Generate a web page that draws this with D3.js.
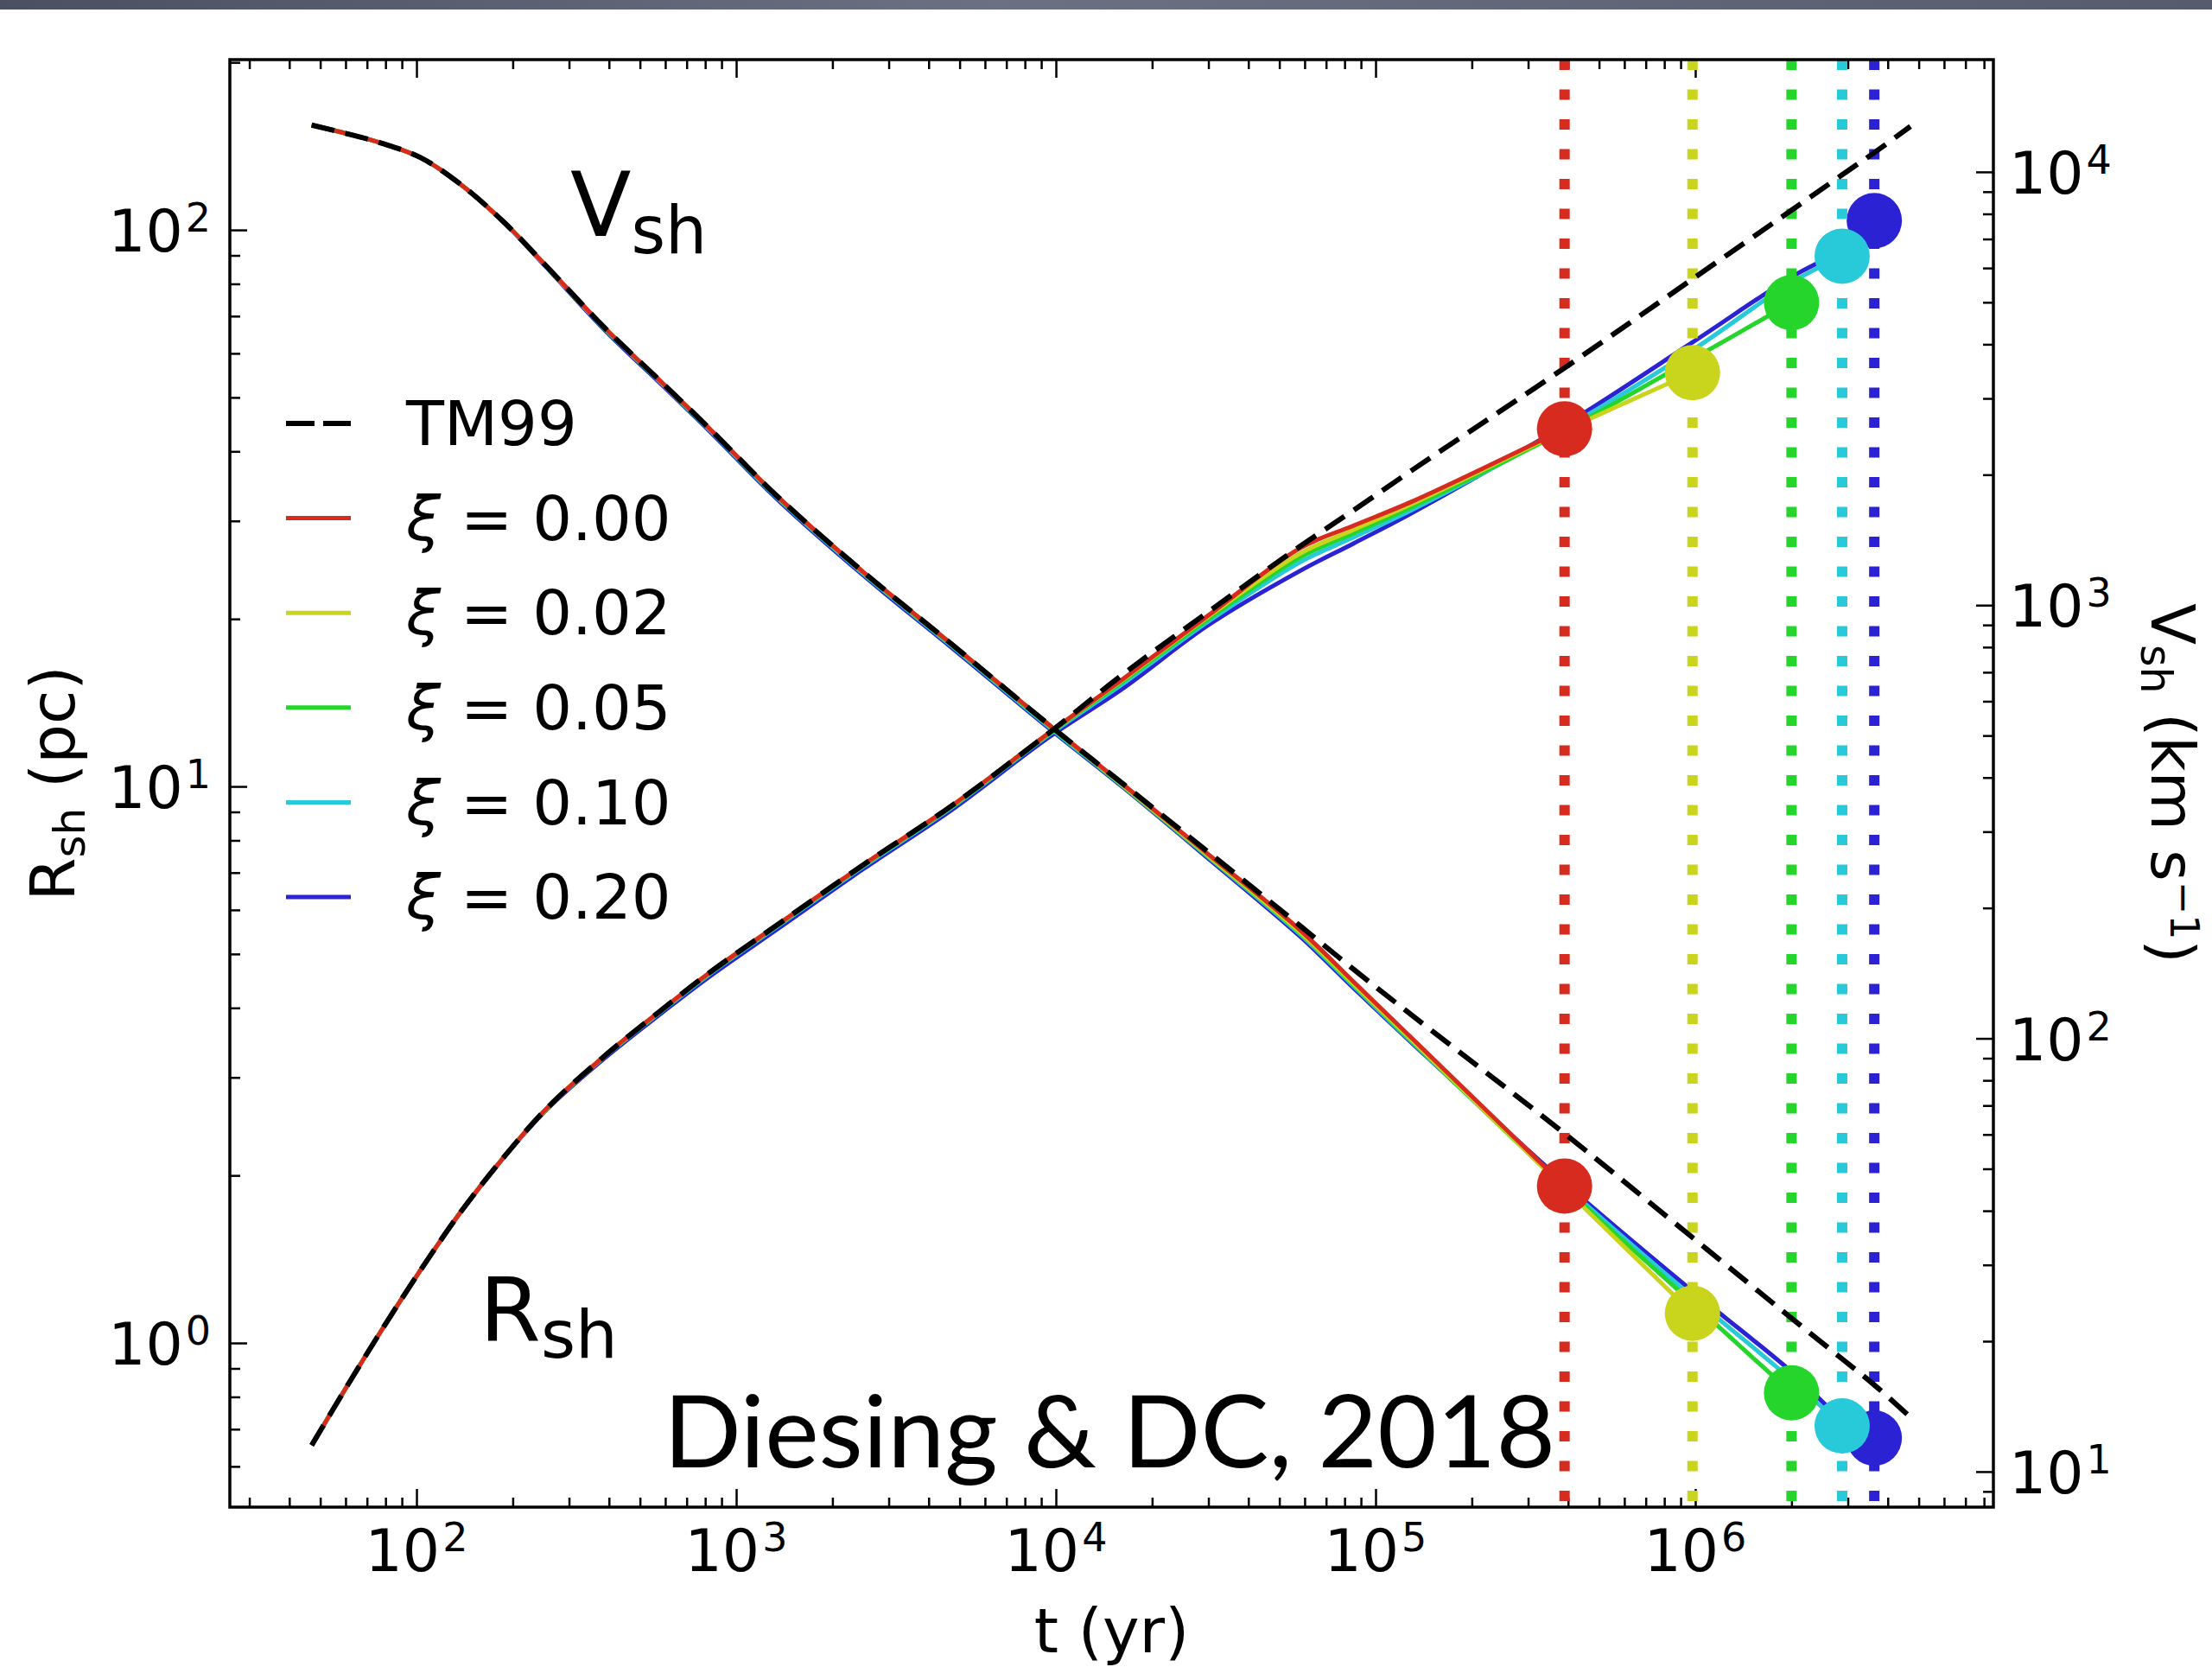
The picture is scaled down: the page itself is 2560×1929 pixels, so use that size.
<!DOCTYPE html>
<html><head><meta charset="utf-8">
<script src="https://cdn.jsdelivr.net/npm/d3@7"></script>
<style>html,body{margin:0;padding:0;background:#fff;} svg{display:block;}</style>
</head><body>
<svg id="chart" width="2560" height="1929"></svg>
<script>
// ---------------- data ----------------
const tYears = [47, 60, 78, 103, 137, 187, 256, 388, 589, 819, 1350, 2510, 4680, 9500,
  16200, 30000, 58000, 85000, 130000, 390000, 980000, 2000000, 2880000, 3630000, 4710000];

const rTM99  = [0.655, 0.828, 1.057, 1.352, 1.714, 2.153, 2.642, 3.281, 3.981, 4.613, 5.649, 7.244, 9.20, 12.47, 15.9, 20.6, 27.0, 31.3, 37.0, 56.5, 81.6, 108.5, 125.6, 137.7, 153.5];
const rXi000 = [0.655, 0.828, 1.057, 1.352, 1.714, 2.153, 2.642, 3.281, 3.981, 4.613, 5.649, 7.244, 9.20, 12.47, 15.6, 20.3, 26.8, 29.4, 32.5, 43.9];
const rXi002 = [0.655, 0.828, 1.057, 1.352, 1.714, 2.153, 2.642, 3.281, 3.981, 4.613, 5.649, 7.244, 9.20, 12.47, 15.55, 20.2, 26.2, 28.9, 32.2, 43.6, 55.4];
const rXi005 = [0.655, 0.828, 1.057, 1.352, 1.714, 2.152, 2.640, 3.275, 3.970, 4.600, 5.630, 7.220, 9.16, 12.42, 15.45, 20.0, 25.8, 28.5, 31.8, 43.6, 58.6, 74.0];
const rXi010 = [0.655, 0.828, 1.057, 1.352, 1.714, 2.152, 2.638, 3.270, 3.960, 4.585, 5.610, 7.190, 9.13, 12.37, 15.3, 19.8, 25.3, 28.0, 31.4, 44.0, 60.8, 80.5, 89.7];
const rXi020 = [0.655, 0.828, 1.057, 1.352, 1.714, 2.150, 2.630, 3.250, 3.930, 4.540, 5.550, 7.120, 9.04, 12.25, 15.0, 19.5, 24.4, 27.3, 31.0, 44.6, 62.8, 82.3, 92.3, 103.9];

const vTM99  = [12823, 12274, 11641, 10789, 9376, 7674, 6039, 4365, 3251, 2570, 1778, 1189, 817, 530, 387, 269, 182, 144.7, 113, 60.3, 34.7, 22.6, 18.2, 15.85, 13.35];
const vXi000 = [12823, 12274, 11641, 10789, 9376, 7674, 6039, 4365, 3251, 2570, 1778, 1189, 817, 530, 386, 266, 178, 135.5, 100, 45.6];
const vXi002 = [12823, 12274, 11641, 10789, 9376, 7674, 6039, 4365, 3251, 2570, 1778, 1189, 817, 530, 384, 264, 176, 134, 99, 45.0, 23.2];
const vXi005 = [12823, 12274, 11641, 10789, 9376, 7674, 6030, 4355, 3242, 2562, 1771, 1183, 813, 527, 383, 263, 175, 133.2, 98.5, 45.3, 24.5, 15.2];
const vXi010 = [12823, 12274, 11641, 10789, 9376, 7674, 6020, 4342, 3232, 2553, 1764, 1178, 809, 524, 382, 262, 174, 132.4, 98, 45.8, 25.3, 16.3, 12.75];
const vXi020 = [12823, 12274, 11641, 10789, 9376, 7665, 6000, 4315, 3210, 2535, 1750, 1168, 802, 520, 380, 260, 172, 131, 97.5, 46.4, 26.1, 17.0, 13.2, 11.95];

const seriesXi     = ["0.00", "0.02", "0.05", "0.10", "0.20"];
const seriesColors = ["#d82b1f", "#c9d41d", "#25d52b", "#28c9d8", "#2b23d3"];
const seriesR      = [rXi000, rXi002, rXi005, rXi010, rXi020];
const seriesV      = [vXi000, vXi002, vXi005, vXi010, vXi020];

const xTickExps      = [2, 3, 4, 5, 6];
const yLeftTickExps  = [0, 1, 2];
const yRightTickExps = [1, 2, 3, 4];

// ---------------- layout ----------------
const L = 266, R = 2307, T = 69, B = 1744;
const svg = d3.select("#chart");

const x  = d3.scaleLog().domain([26.07, 8.56e6]).range([L, R]);
const yL = d3.scaleLog().domain([0.507, 202.3]).range([B, T]);
const yR = d3.scaleLog().domain([8.28, 18160]).range([B, T]);

// top band
const defs = svg.append("defs");
const grad = defs.append("linearGradient").attr("id", "band").attr("x1", 0).attr("x2", 1);
grad.append("stop").attr("offset", "0%").attr("stop-color", "#4b5061");
grad.append("stop").attr("offset", "45%").attr("stop-color", "#6b7082");
grad.append("stop").attr("offset", "100%").attr("stop-color", "#575c6d");
svg.append("rect").attr("x", 0).attr("y", 0).attr("width", 2560).attr("height", 11).attr("fill", "url(#band)");

defs.append("clipPath").attr("id", "plotclip").append("rect")
  .attr("x", L).attr("y", T).attr("width", R - L).attr("height", B - T);

// tick helpers
function minorTicks(domain) {
  const out = [];
  const lo = Math.floor(Math.log10(domain[0])), hi = Math.ceil(Math.log10(domain[1]));
  for (let e = lo; e <= hi; e++) for (let m = 2; m <= 9; m++) {
    const v = m * Math.pow(10, e);
    if (v >= domain[0] && v <= domain[1]) out.push(v);
  }
  return out;
}
function drawAxis(axisFn, scale, values, size, transform) {
  const g = svg.append("g").attr("transform", transform)
    .call(axisFn(scale).tickValues(values).tickSize(size).tickFormat(""));
  g.select(".domain").remove();
  g.selectAll(".tick line").attr("stroke", "#000").attr("stroke-width", 2.5);
  g.selectAll(".tick text").remove();
  return g;
}
const xMaj = xTickExps.map(e => Math.pow(10, e));
const yLMaj = yLeftTickExps.map(e => Math.pow(10, e));
const yRMaj = yRightTickExps.map(e => Math.pow(10, e));

drawAxis(d3.axisBottom, x, minorTicks(x.domain()), -11, `translate(0,${B})`);
drawAxis(d3.axisBottom, x, xMaj, -21, `translate(0,${B})`);
drawAxis(d3.axisTop, x, minorTicks(x.domain()), -11, `translate(0,${T})`);
drawAxis(d3.axisTop, x, xMaj, -21, `translate(0,${T})`);
drawAxis(d3.axisLeft, yL, minorTicks(yL.domain()), -12, `translate(${L},0)`);
drawAxis(d3.axisLeft, yL, yLMaj, -20, `translate(${L},0)`);
drawAxis(d3.axisRight, yR, minorTicks(yR.domain()), -12, `translate(${R},0)`);
drawAxis(d3.axisRight, yR, yRMaj, -20, `translate(${R},0)`);

// tick labels 10^n
function powLabel(px, py, exp, anchor) {
  const t = svg.append("text").attr("x", px).attr("y", py).attr("text-anchor", anchor)
    .attr("font-family", "DejaVu Sans").attr("font-size", 68).attr("fill", "#000");
  t.append("tspan").text("10");
  t.append("tspan").attr("dx", 3).attr("dy", -23).attr("font-size", 46).text(exp);
}
xTickExps.forEach(e => powLabel(x(Math.pow(10, e)), 1818, e, "middle"));
yLeftTickExps.forEach(e => powLabel(244, yL(Math.pow(10, e)) + 25, e, "end"));
yRightTickExps.forEach(e => powLabel(2325, yR(Math.pow(10, e)) + 25, e, "start"));

// axis titles
svg.append("text").attr("x", (L + R) / 2).attr("y", 1912).attr("text-anchor", "middle")
  .attr("font-family", "DejaVu Sans").attr("font-size", 72).text("t (yr)");

const lt = svg.append("text").attr("transform", `translate(86,${(T + B) / 2}) rotate(-90)`)
  .attr("text-anchor", "middle").attr("font-family", "DejaVu Sans").attr("font-size", 72);
lt.append("tspan").text("R");
lt.append("tspan").attr("font-size", 50).attr("dy", 12).text("sh");
lt.append("tspan").attr("dy", -12).text(" (pc)");

const rt = svg.append("text").attr("transform", `translate(2490,${(T + B) / 2}) rotate(90)`)
  .attr("text-anchor", "middle").attr("font-family", "DejaVu Sans").attr("font-size", 70);
rt.append("tspan").text("V");
rt.append("tspan").attr("font-size", 49).attr("dy", 12).text("sh");
rt.append("tspan").attr("dy", -12).text(" (km s");
rt.append("tspan").attr("font-size", 46).attr("dy", -22).text("\u22121");
rt.append("tspan").attr("dy", 22).text(")");

// ---------------- marks ----------------
const plot = svg.append("g").attr("clip-path", "url(#plotclip)");
const curve = d3.curveCatmullRom.alpha(0.5);
const lineR = d3.line().x(d => x(d[0])).y(d => yL(d[1])).curve(curve);
const lineV = d3.line().x(d => x(d[0])).y(d => yR(d[1])).curve(curve);
const zipT = arr => arr.map((v, i) => [tYears[i], v]);

const order = [4, 3, 2, 1, 0];
order.forEach(i => {
  const col = seriesColors[i];
  const rd = zipT(seriesR[i]), vd = zipT(seriesV[i]);
  plot.append("path").attr("d", lineR(rd)).attr("fill", "none").attr("stroke", col).attr("stroke-width", 5);
  plot.append("path").attr("d", lineV(vd)).attr("fill", "none").attr("stroke", col).attr("stroke-width", 5);
  const tEnd = rd[rd.length - 1][0];
  plot.append("line").attr("x1", x(tEnd)).attr("x2", x(tEnd)).attr("y1", T).attr("y2", B)
    .attr("stroke", col).attr("stroke-width", 12).attr("stroke-dasharray", "12,22.5");
  plot.append("circle").attr("cx", x(tEnd)).attr("cy", yL(rd[rd.length - 1][1])).attr("r", 32).attr("fill", col);
  plot.append("circle").attr("cx", x(vd[vd.length - 1][0])).attr("cy", yR(vd[vd.length - 1][1])).attr("r", 32).attr("fill", col);
});
plot.append("path").attr("d", lineR(zipT(rTM99))).attr("fill", "none").attr("stroke", "#000")
  .attr("stroke-width", 6).attr("stroke-dasharray", "27,13");
plot.append("path").attr("d", lineV(zipT(vTM99))).attr("fill", "none").attr("stroke", "#000")
  .attr("stroke-width", 6).attr("stroke-dasharray", "27,13");

// frame
svg.append("rect").attr("x", L).attr("y", T).attr("width", R - L).attr("height", B - T)
  .attr("fill", "none").attr("stroke", "#000").attr("stroke-width", 3.5);

// ---------------- legend ----------------
const lg = svg.append("g").attr("font-family", "DejaVu Sans").attr("font-size", 72);
const rowY = i => 490 + 109.6 * i;
lg.append("line").attr("x1", 331).attr("x2", 406).attr("y1", rowY(0)).attr("y2", rowY(0))
  .attr("stroke", "#000").attr("stroke-width", 6).attr("stroke-dasharray", "33,10");
lg.append("text").attr("x", 470).attr("y", rowY(0)).attr("dy", "0.35em").text("TM99");
seriesXi.forEach((xi, i) => {
  const y = rowY(i + 1);
  lg.append("line").attr("x1", 331).attr("x2", 406).attr("y1", y).attr("y2", y)
    .attr("stroke", seriesColors[i]).attr("stroke-width", 5);
  const t = lg.append("text").attr("x", 470).attr("y", y).attr("dy", "0.35em");
  t.append("tspan").attr("font-style", "italic").text("\u03be");
  t.append("tspan").text(" = " + xi);
});

// ---------------- annotations ----------------
const va = svg.append("text").attr("x", 660).attr("y", 273).attr("font-family", "DejaVu Sans").attr("font-size", 103);
va.append("tspan").text("V");
va.append("tspan").attr("font-size", 76).attr("dy", 20).text("sh");
const ra = svg.append("text").attr("x", 555).attr("y", 1551).attr("font-family", "DejaVu Sans").attr("font-size", 102);
ra.append("tspan").text("R");
ra.append("tspan").attr("font-size", 77).attr("dy", 20).text("sh");

svg.append("text").attr("x", 768).attr("y", 1698).attr("font-family", "Lato, 'Open Sans', sans-serif")
  .attr("font-weight", 400).attr("font-size", 116).attr("textLength", 1032).attr("lengthAdjust", "spacingAndGlyphs")
  .attr("fill", "#000").text("Diesing & DC, 2018");
</script>
</body></html>
